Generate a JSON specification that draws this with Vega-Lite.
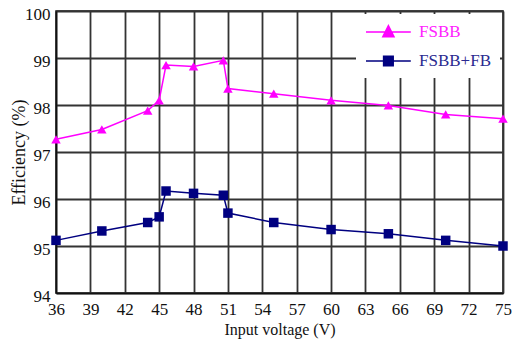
{
  "$schema": "https://vega.github.io/schema/vega-lite/v6.json",
  "width": 447,
  "height": 282,
  "autosize": {"type": "none"},
  "padding": {"left": 56, "top": 11, "right": 12, "bottom": 49},
  "background": "white",
  "config": {
    "view": {"stroke": "#111", "strokeWidth": 1.5},
    "font": "Liberation Serif",
    "legend": {"labelFont": "Liberation Serif", "labelFontSize": 17},
    "axis": {
      "labelFont": "Liberation Serif",
      "titleFont": "Liberation Serif",
      "labelColor": "#111",
      "titleColor": "#111",
      "labelFontSize": 17,
      "titleFontWeight": "normal",
      "gridColor": "#333",
      "gridWidth": 1.8,
      "gridOpacity": 1,
      "domainColor": "#111",
      "domainWidth": 1.5,
      "ticks": false
    }
  },
  "data": {
    "values": [
      {"series": "FSBB", "voltage": 36, "efficiency": 97.27},
      {"series": "FSBB", "voltage": 40, "efficiency": 97.48},
      {"series": "FSBB", "voltage": 44, "efficiency": 97.88},
      {"series": "FSBB", "voltage": 45, "efficiency": 98.1},
      {"series": "FSBB", "voltage": 45.6, "efficiency": 98.85},
      {"series": "FSBB", "voltage": 48, "efficiency": 98.82},
      {"series": "FSBB", "voltage": 50.6, "efficiency": 98.95},
      {"series": "FSBB", "voltage": 51, "efficiency": 98.35},
      {"series": "FSBB", "voltage": 55, "efficiency": 98.24},
      {"series": "FSBB", "voltage": 60, "efficiency": 98.1},
      {"series": "FSBB", "voltage": 65, "efficiency": 97.99},
      {"series": "FSBB", "voltage": 70, "efficiency": 97.8},
      {"series": "FSBB", "voltage": 75, "efficiency": 97.71},
      {"series": "FSBB+FB", "voltage": 36, "efficiency": 95.12},
      {"series": "FSBB+FB", "voltage": 40, "efficiency": 95.32},
      {"series": "FSBB+FB", "voltage": 44, "efficiency": 95.5},
      {"series": "FSBB+FB", "voltage": 45, "efficiency": 95.62},
      {"series": "FSBB+FB", "voltage": 45.6, "efficiency": 96.17},
      {"series": "FSBB+FB", "voltage": 48, "efficiency": 96.12},
      {"series": "FSBB+FB", "voltage": 50.6, "efficiency": 96.08},
      {"series": "FSBB+FB", "voltage": 51, "efficiency": 95.7},
      {"series": "FSBB+FB", "voltage": 55, "efficiency": 95.5},
      {"series": "FSBB+FB", "voltage": 60, "efficiency": 95.35},
      {"series": "FSBB+FB", "voltage": 65, "efficiency": 95.26},
      {"series": "FSBB+FB", "voltage": 70, "efficiency": 95.12},
      {"series": "FSBB+FB", "voltage": 75, "efficiency": 95.0}
    ]
  },
  "encoding": {
    "x": {
      "field": "voltage",
      "type": "quantitative",
      "scale": {"domain": [36, 75], "nice": false, "zero": false},
      "axis": {
        "values": [36, 39, 42, 45, 48, 51, 54, 57, 60, 63, 66, 69, 72, 75],
        "title": "Input voltage (V)",
        "titleFontSize": 16,
        "titlePadding": 4,
        "labelPadding": 8,
        "labelFlush": false
      }
    },
    "y": {
      "field": "efficiency",
      "type": "quantitative",
      "scale": {"domain": [94, 100], "nice": false, "zero": false},
      "axis": {
        "values": [94, 95, 96, 97, 98, 99, 100],
        "title": "Efficiency (%)",
        "titleFontSize": 18,
        "titleX": -28,
        "labelPadding": 6,
        "labelOffset": 3,
        "labelFlush": false
      }
    }
  },
  "layer": [
    {
      "mark": {"type": "line", "strokeWidth": 1.5},
      "encoding": {
        "color": {
          "field": "series",
          "type": "nominal",
          "scale": {"domain": ["FSBB", "FSBB+FB"], "range": ["#ff00ff", "#000080"]},
          "legend": {
            "title": null,
            "orient": "top-right",
            "offset": 3,
            "padding": 9,
            "fillColor": "white",
            "labelFont": "Liberation Serif",
            "labelFontSize": 17,
            "symbolSize": 256,
            "labelOffset": 36,
            "rowPadding": 12,
            "encode": {
              "symbols": {
                "update": {
                  "shape": {"signal": "datum.value === 'FSBB' ? 'M-1,0H4.6M1.1,0.6L1.8,-0.8L2.5,0.6Z' : 'M-1,0H4.6M1.2,-0.6H2.4V0.6H1.2Z'"},
                  "fill": {"signal": "datum.value === 'FSBB' ? '#ff00ff' : '#000080'"},
                  "stroke": {"signal": "datum.value === 'FSBB' ? '#ff00ff' : '#000080'"},
                  "strokeWidth": {"value": 1.5},
                  "opacity": {"value": 1}
                }
              },
              "labels": {
                "update": {
                  "font": {"value": "Liberation Serif"},
                  "fontSize": {"value": 17},
                  "fill": {"signal": "datum.value === 'FSBB' ? '#ff22ff' : '#2a2a90'"}
                }
              }
            }
          }
        }
      }
    },
    {
      "transform": [{"filter": "datum.series === 'FSBB'"}],
      "mark": {"type": "point", "filled": true, "opacity": 1, "shape": "triangle-up", "color": "#ff00ff", "size": 90}
    },
    {
      "transform": [{"filter": "datum.series === 'FSBB+FB'"}],
      "mark": {"type": "point", "filled": true, "opacity": 1, "shape": "square", "color": "#000080", "size": 90}
    }
  ]
}
